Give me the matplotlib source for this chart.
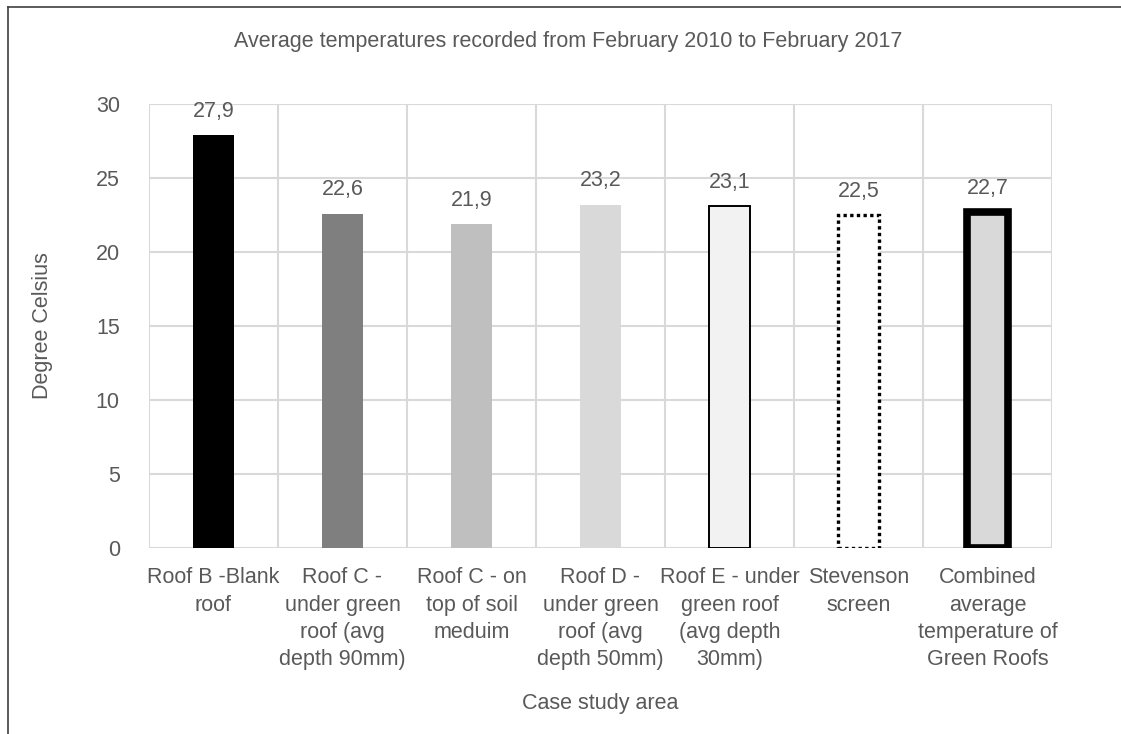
import matplotlib
matplotlib.use("Agg")
import matplotlib.pyplot as plt
from matplotlib import font_manager
from matplotlib.lines import Line2D

categories = ["Roof B -Blank\nroof",
              "Roof C -\nunder green\nroof (avg\ndepth 90mm)",
              "Roof C - on\ntop of soil\nmeduim",
              "Roof D -\nunder green\nroof (avg\ndepth 50mm)",
              "Roof E - under\ngreen roof\n(avg depth\n30mm)",
              "Stevenson\nscreen",
              "Combined\naverage\ntemperature of\nGreen Roofs"]
values = [27.9, 22.6, 21.9, 23.2, 23.1, 22.5, 22.7]
labels = ["27,9", "22,6", "21,9", "23,2", "23,1", "22,5", "22,7"]
yticks = [0, 5, 10, 15, 20, 25, 30]

fill_colors = ["#000000", "#7f7f7f", "#bfbfbf", "#d9d9d9", "#f2f2f2", "#ffffff", "#d9d9d9"]
edge_colors = ["none", "none", "none", "none", "#000000", "#000000", "#000000"]
edge_widths = [0, 0, 0, 0, 1.4, 2.4, 5.5]
edge_styles = ["solid", "solid", "solid", "solid", "solid", (0, (1, 1)), "solid"]

names = {f.name for f in font_manager.fontManager.ttflist}
fam = "Liberation Sans Narrow" if "Liberation Sans Narrow" in names else "Liberation Sans"
plt.rcParams["font.family"] = [fam, "DejaVu Sans"]
txt = "#595959"

W, H = 1121, 734
fig = plt.figure(figsize=(W / 100, H / 100), dpi=100)
ax = fig.add_axes([149 / W, 1 - 548 / H, (1052 - 149) / W, (548 - 104) / H])

x = list(range(len(values)))
bars = ax.bar(x, values, width=0.32, color=fill_colors, edgecolor=edge_colors,
              linewidth=edge_widths, zorder=3)
for b, ls in zip(bars, edge_styles):
    b.set_linestyle(ls)
    b.set_joinstyle("miter")

for xi, v, lab in zip(x, values, labels):
    ax.text(xi, v + 0.9, lab, ha="center", va="bottom", fontsize=15.5, color=txt)

ax.set_xlim(-0.5, len(values) - 0.5)
ax.set_ylim(0, 30)
ax.set_yticks(yticks)
ax.set_yticklabels([str(t) for t in yticks], fontsize=15.5, color=txt)
ax.set_xticks(x)
ax.set_xticklabels(categories, fontsize=15.5, color=txt, va="top", linespacing=1.38)
ax.set_xticks([i - 0.5 for i in range(len(values) + 1)], minor=True)
ax.tick_params(axis="both", which="both", length=0)
ax.tick_params(axis="y", pad=21)
ax.tick_params(axis="x", pad=14)
ax.grid(axis="y", color="#d9d9d9", linewidth=1.5, zorder=0)
ax.grid(axis="x", which="minor", color="#d9d9d9", linewidth=1.5, zorder=0)
ax.grid(axis="x", which="major", visible=False)
for s in ax.spines.values():
    s.set_visible(False)

fig.text(43 / W, 1 - 326 / H, "Degree Celsius", rotation=90, ha="center", va="center",
         fontsize=15.5, color=txt)
fig.text(600 / W, 1 - 703 / H, "Case study area", ha="center", va="center",
         fontsize=15.5, color=txt)
fig.text(568 / W, 1 - 42 / H,
         "Average temperatures recorded from February 2010 to February 2017",
         ha="center", va="center", fontsize=15.5, color=txt)

# outer frame (left and top only visible)
fig.add_artist(Line2D([8 / W, 8 / W], [0, 1 - 7 / H], transform=fig.transFigure,
                      color="#404040", linewidth=1.2))
fig.add_artist(Line2D([8 / W, 1], [1 - 7 / H, 1 - 7 / H], transform=fig.transFigure,
                      color="#404040", linewidth=1.2))

fig.savefig("out.png", dpi=100)
